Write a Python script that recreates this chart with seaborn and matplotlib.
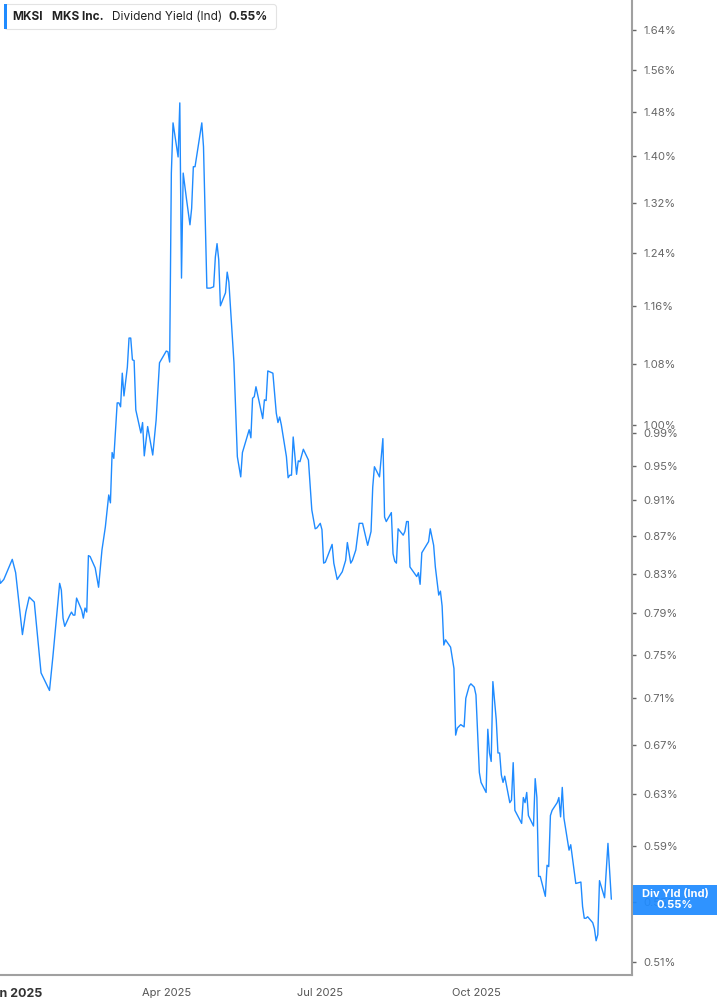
import pandas as pd
import numpy as np
import matplotlib.pyplot as plt
import seaborn as sns
from matplotlib.ticker import NullLocator, FixedLocator
from matplotlib.patches import FancyBboxPatch, Rectangle

dates = [
    "2024-12-23", "2024-12-24", "2024-12-26", "2024-12-31", "2025-01-02",
    "2025-01-06", "2025-01-08", "2025-01-10", "2025-01-13", "2025-01-17",
    "2025-01-22", "2025-01-24", "2025-01-28", "2025-01-29", "2025-01-30",
    "2025-01-31", "2025-02-03", "2025-02-04", "2025-02-05", "2025-02-06",
    "2025-02-07", "2025-02-10", "2025-02-11", "2025-02-12", "2025-02-13",
    "2025-02-14", "2025-02-15", "2025-02-18", "2025-02-20", "2025-02-22",
    "2025-02-24", "2025-02-26", "2025-02-27", "2025-02-28", "2025-03-01",
    "2025-03-03", "2025-03-04", "2025-03-05", "2025-03-06", "2025-03-07",
    "2025-03-09", "2025-03-10", "2025-03-11", "2025-03-12", "2025-03-13",
    "2025-03-14", "2025-03-17", "2025-03-18", "2025-03-19", "2025-03-21",
    "2025-03-24", "2025-03-26", "2025-03-28", "2025-04-01", "2025-04-02",
    "2025-04-03", "2025-04-04", "2025-04-05", "2025-04-08", "2025-04-09",
    "2025-04-10", "2025-04-11", "2025-04-13", "2025-04-15", "2025-04-16",
    "2025-04-17", "2025-04-18", "2025-04-22", "2025-04-23", "2025-04-25",
    "2025-04-27", "2025-04-29", "2025-04-30", "2025-05-01", "2025-05-02",
    "2025-05-03", "2025-05-06", "2025-05-07", "2025-05-08", "2025-05-11",
    "2025-05-13", "2025-05-15", "2025-05-16", "2025-05-20", "2025-05-21",
    "2025-05-22", "2025-05-23", "2025-05-24", "2025-05-28", "2025-05-29",
    "2025-05-30", "2025-05-31", "2025-06-03", "2025-06-05", "2025-06-06",
    "2025-06-07", "2025-06-08", "2025-06-11", "2025-06-12", "2025-06-13",
    "2025-06-14", "2025-06-15", "2025-06-17", "2025-06-18", "2025-06-19",
    "2025-06-21", "2025-06-24", "2025-06-26", "2025-06-28", "2025-06-29",
    "2025-07-01", "2025-07-02", "2025-07-03", "2025-07-04", "2025-07-08",
    "2025-07-09", "2025-07-11", "2025-07-14", "2025-07-16", "2025-07-17",
    "2025-07-19", "2025-07-20", "2025-07-22", "2025-07-24", "2025-07-26",
    "2025-07-29", "2025-07-31", "2025-08-01", "2025-08-02", "2025-08-05",
    "2025-08-07", "2025-08-08", "2025-08-09", "2025-08-12", "2025-08-13",
    "2025-08-14", "2025-08-15", "2025-08-16", "2025-08-19", "2025-08-20",
    "2025-08-21", "2025-08-22", "2025-08-23", "2025-08-27", "2025-08-28",
    "2025-08-29", "2025-08-30", "2025-09-03", "2025-09-04", "2025-09-06",
    "2025-09-07", "2025-09-09", "2025-09-10", "2025-09-11", "2025-09-12",
    "2025-09-13", "2025-09-16", "2025-09-18", "2025-09-19", "2025-09-20",
    "2025-09-22", "2025-09-24", "2025-09-25", "2025-09-27", "2025-09-28",
    "2025-09-30", "2025-10-01", "2025-10-03", "2025-10-04", "2025-10-07",
    "2025-10-08", "2025-10-09", "2025-10-10", "2025-10-11", "2025-10-13",
    "2025-10-14", "2025-10-15", "2025-10-16", "2025-10-17", "2025-10-18",
    "2025-10-21", "2025-10-22", "2025-10-23", "2025-10-24", "2025-10-28",
    "2025-10-29", "2025-10-30", "2025-10-31", "2025-11-01", "2025-11-04",
    "2025-11-05", "2025-11-06", "2025-11-07", "2025-11-08", "2025-11-11",
    "2025-11-12", "2025-11-13", "2025-11-14", "2025-11-15", "2025-11-18",
    "2025-11-19", "2025-11-20", "2025-11-21", "2025-11-22", "2025-11-25",
    "2025-11-26", "2025-11-29", "2025-12-02", "2025-12-03", "2025-12-04",
    "2025-12-05", "2025-12-06", "2025-12-09", "2025-12-10", "2025-12-11",
    "2025-12-12", "2025-12-13", "2025-12-16", "2025-12-18", "2025-12-20",
]

yields = [
    0.829, 0.820, 0.824, 0.845, 0.831,
    0.769, 0.791, 0.806, 0.801, 0.733,
    0.717, 0.748, 0.820, 0.813, 0.785,
    0.777, 0.788, 0.791, 0.788, 0.788,
    0.805, 0.793, 0.785, 0.795, 0.791,
    0.849, 0.848, 0.836, 0.816, 0.855,
    0.880, 0.916, 0.907, 0.966, 0.959,
    1.028, 1.028, 1.023, 1.067, 1.037,
    1.075, 1.115, 1.115, 1.085, 1.084,
    1.019, 0.990, 1.003, 0.962, 0.998,
    0.963, 1.006, 1.081, 1.097, 1.096,
    1.082, 1.371, 1.460, 1.399, 1.497,
    1.202, 1.371, 1.326, 1.285, 1.312,
    1.382, 1.382, 1.460, 1.417, 1.187,
    1.187, 1.189, 1.234, 1.255, 1.230,
    1.161, 1.180, 1.211, 1.196, 1.081,
    0.961, 0.937, 0.966, 0.994, 0.984,
    1.034, 1.036, 1.049, 1.008, 1.032,
    1.031, 1.070, 1.067, 1.015, 1.003,
    1.010, 1.000, 0.961, 0.936, 0.939,
    0.939, 0.985, 0.940, 0.956, 0.955,
    0.970, 0.957, 0.899, 0.878, 0.879,
    0.884, 0.877, 0.841, 0.842, 0.861,
    0.841, 0.824, 0.832, 0.844, 0.863,
    0.841, 0.844, 0.855, 0.884, 0.884,
    0.860, 0.875, 0.925, 0.949, 0.937,
    0.983, 0.891, 0.886, 0.896, 0.851,
    0.843, 0.841, 0.878, 0.871, 0.875,
    0.886, 0.886, 0.837, 0.827, 0.831,
    0.819, 0.852, 0.864, 0.878, 0.860,
    0.837, 0.808, 0.812, 0.797, 0.759,
    0.764, 0.757, 0.737, 0.678, 0.684,
    0.687, 0.685, 0.710, 0.721, 0.723,
    0.720, 0.713, 0.647, 0.639, 0.631,
    0.683, 0.663, 0.656, 0.725, 0.691,
    0.663, 0.663, 0.645, 0.639, 0.644,
    0.623, 0.625, 0.655, 0.617, 0.607,
    0.627, 0.623, 0.631, 0.613, 0.605,
    0.642, 0.627, 0.568, 0.568, 0.554,
    0.576, 0.575, 0.613, 0.617, 0.623,
    0.627, 0.612, 0.635, 0.611, 0.587,
    0.591, 0.563, 0.564, 0.547, 0.539,
    0.539, 0.540, 0.536, 0.532, 0.524,
    0.528, 0.565, 0.553, 0.592, 0.552,
]

ytick_vals = [1.64, 1.56, 1.48, 1.40, 1.32, 1.24, 1.16, 1.08, 1.00, 0.99,
              0.95, 0.91, 0.87, 0.83, 0.79, 0.75, 0.71, 0.67, 0.63, 0.59,
              0.55, 0.51]
xtick_dates = ["2025-01-01", "2025-04-01", "2025-07-01", "2025-10-01"]
xtick_labels = ["Jan 2025", "Apr 2025", "Jul 2025", "Oct 2025"]

ticker = "MKSI"
company = "MKS Inc."
metric = "Dividend Yield (Ind)"
last_value = yields[-1]

df = pd.DataFrame({"date": pd.to_datetime(dates), "yield": yields})

sns.set_style("white")
plt.rcParams["font.family"] = ["Inter", "DejaVu Sans"]

blue = "#1f8bff"

fig = plt.figure(figsize=(7.17, 10.05), dpi=100)
ax = fig.add_axes([0, 30 / 1005, 632 / 717, 975 / 1005])

sns.lineplot(data=df, x="date", y="yield", color=blue, linewidth=1.0, ax=ax)

ax.set_yscale("log")
ax.set_ylim(0.502, 1.703)
ax.set_xlim(pd.Timestamp("2024-12-23 18:00"), pd.Timestamp("2026-01-01 05:00"))

ax.yaxis.set_major_locator(FixedLocator(ytick_vals))
ax.yaxis.set_minor_locator(NullLocator())
ax.set_yticklabels([f"{v:.2f}%" for v in ytick_vals])
ax.yaxis.tick_right()
ax.tick_params(axis="y", length=3, width=1, color="#666666", pad=5,
               labelsize=8, labelcolor="#666666")

ax.set_xticks(pd.to_datetime(xtick_dates))
ax.set_xticklabels(xtick_labels)
ax.xaxis.set_minor_locator(NullLocator())
ax.tick_params(axis="x", length=4, width=1, color="#999999", pad=5,
               labelsize=8, labelcolor="#555555")
first = ax.get_xticklabels()[0]
first.set_fontweight("bold")
first.set_color("#333333")
first.set_fontsize(9)

ax.set_xlabel("")
ax.set_ylabel("")
for side in ["left", "top"]:
    ax.spines[side].set_visible(False)
for side in ["right", "bottom"]:
    ax.spines[side].set_color("#a0a0a0")
    ax.spines[side].set_linewidth(1.5)

# header box top left
inch = fig.dpi_scale_trans
fig.patches.append(FancyBboxPatch((0.045, 9.755), 2.72, 0.25,
                                  boxstyle="round,pad=0,rounding_size=0.03",
                                  facecolor="white", edgecolor="#e3e3e3",
                                  linewidth=0.8, transform=inch, zorder=5))
fig.patches.append(Rectangle((0.04, 9.755), 0.03, 0.25, facecolor=blue,
                             edgecolor="none", transform=inch, zorder=6))
ty = 10.05 - 0.17
fig.text(0.125, ty, ticker, transform=inch, fontsize=8.5, fontweight="bold",
         color="#222222", va="center", zorder=7)
fig.text(0.525, ty, company, transform=inch, fontsize=8.5, fontweight="bold",
         color="#222222", va="center", zorder=7)
fig.text(1.115, ty, metric, transform=inch, fontsize=8.5,
         color="#222222", va="center", zorder=7)
fig.text(2.285, ty, f"{last_value:.2f}%", transform=inch, fontsize=8.5,
         fontweight="bold", color="#222222", va="center", zorder=7)

# last value tag on right axis (slightly see-through, like the original)
fig.patches.append(Rectangle((6.33, 10.05 - 9.15), 0.84, 0.30, facecolor=blue,
                             edgecolor="none", alpha=0.93, transform=inch,
                             zorder=5))
fig.text(6.75, 10.05 - 8.94, "Div Yld (Ind)", transform=inch, fontsize=8,
         fontweight="bold", color="white", ha="center", va="center", zorder=7)
fig.text(6.75, 10.05 - 9.055, f"{last_value:.2f}%", transform=inch, fontsize=8,
         fontweight="bold", color="white", ha="center", va="center", zorder=7)

fig.savefig("out.png", dpi=100)
